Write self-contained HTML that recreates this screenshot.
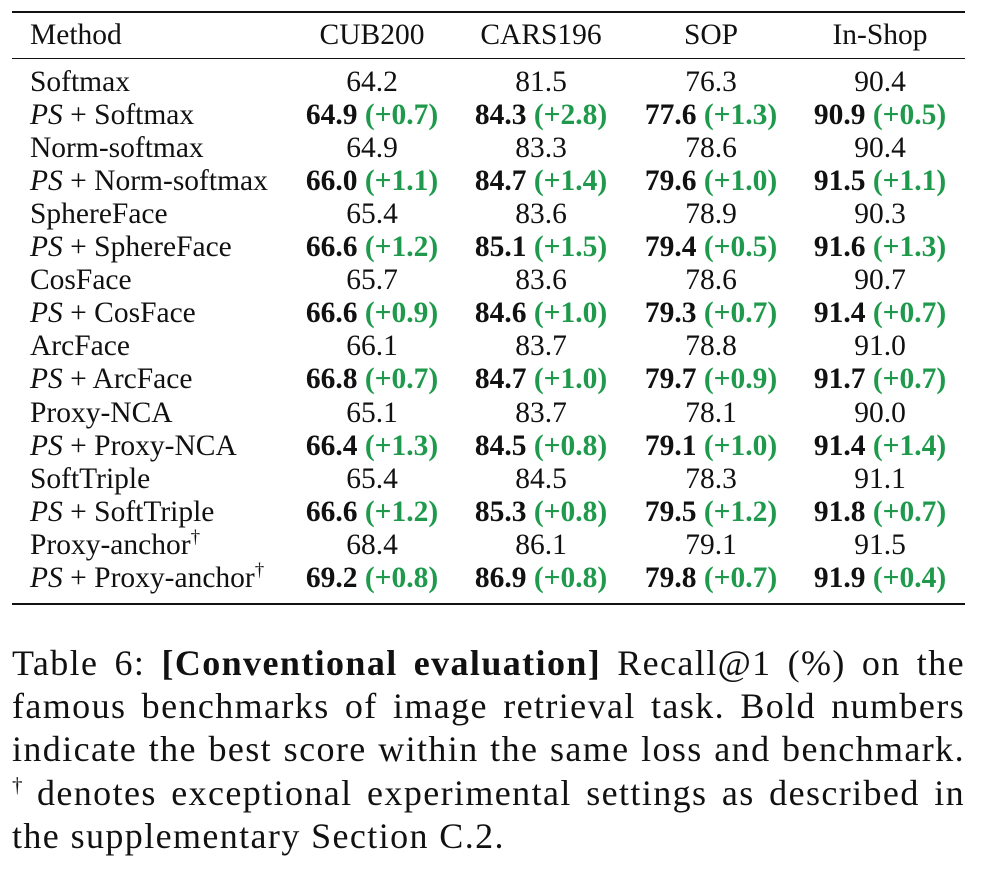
<!DOCTYPE html>
<html><head><meta charset="utf-8">
<style>
body{margin:0;background:#fff;width:984px;height:871px;overflow:hidden;position:relative;font-family:"Liberation Serif",serif;color:#111}
.rule{position:absolute;left:12px;width:953px;background:#111}
.t{position:absolute;font-size:29.5px;line-height:33px;white-space:nowrap}
.c{transform:translateX(-50%)}
.g{color:#1f9a4c}
.cl{position:absolute;left:12px;width:953px;font-size:36px;letter-spacing:1.4px;line-height:43px;white-space:nowrap;text-align:justify;text-align-last:justify}
.cl sup{font-size:21px;line-height:0}
</style></head><body>
<div class="rule" style="top:11px;height:2px"></div>
<div class="rule" style="top:58px;height:1.3px"></div>
<div class="rule" style="top:603px;height:2px"></div>
<div class="t" style="left:30px;top:19px">Method</div>
<div class="t c" style="left:372px;top:19px">CUB200</div>
<div class="t c" style="left:541px;top:19px">CARS196</div>
<div class="t c" style="left:711px;top:19px">SOP</div>
<div class="t c" style="left:880px;top:19px">In-Shop</div>
<div id="rows"></div>
<div>
<div class="cl" style="top:642px">Table 6: <b>[Conventional evaluation]</b> Recall@1 (%) on the</div>
<div class="cl" style="top:685px">famous benchmarks of image retrieval task. Bold numbers</div>
<div class="cl" style="top:728px">indicate the best score within the same loss and benchmark.</div>
<div class="cl" style="top:772px"><span style="white-space:nowrap"><sup>†</sup><span style="margin-left:9px">denotes</span></span> exceptional experimental settings as described in</div>
<div class="cl" style="top:815px;text-align-last:left">the supplementary Section C.2.</div>
</div>
<script>
const methods=["Softmax","Norm-softmax","SphereFace","CosFace","ArcFace","Proxy-NCA","SoftTriple","Proxy-anchor"];
const dagger=[false,false,false,false,false,false,false,true];
const base=[[64.2,81.5,76.3,90.4],[64.9,83.3,78.6,90.4],[65.4,83.6,78.9,90.3],[65.7,83.6,78.6,90.7],[66.1,83.7,78.8,91.0],[65.1,83.7,78.1,90.0],[65.4,84.5,78.3,91.1],[68.4,86.1,79.1,91.5]];
const ps=[[64.9,84.3,77.6,90.9],[66.0,84.7,79.6,91.5],[66.6,85.1,79.4,91.6],[66.6,84.6,79.3,91.4],[66.8,84.7,79.7,91.7],[66.4,84.5,79.1,91.4],[66.6,85.3,79.5,91.8],[69.2,86.9,79.8,91.9]];
const cols=[372,541,711,880];
const rows=document.getElementById('rows');
function add(html,left,top,center,name){
  const d=document.createElement('div');
  d.className='t'+(center?' c':'');
  d.style.left=left+'px';d.style.top=top+'px';
  d.innerHTML=html;
  
  
  rows.appendChild(d);
}
methods.forEach((m,i)=>{
  const y1=66+i*66.1, y2=y1+33.05;
  const dg=dagger[i]?'<sup style="font-size:19px;line-height:0">†</sup>':'';
  const slug=m.toLowerCase();
  add(m+dg,30,y1,false,'method-'+slug);
  add('<i>PS</i> + '+m+dg,30,y2,false,'method-ps-'+slug);
  for(let j=0;j<4;j++){
    add(base[i][j].toFixed(1),cols[j],y1,true,'cell-'+slug+'-'+j);
    const d=(ps[i][j]-base[i][j]).toFixed(1);
    add('<b>'+ps[i][j].toFixed(1)+'</b> <b class="g">(+'+d+')</b>',cols[j],y2,true,'cell-ps-'+slug+'-'+j);
  }
});
</script>
</body></html>
